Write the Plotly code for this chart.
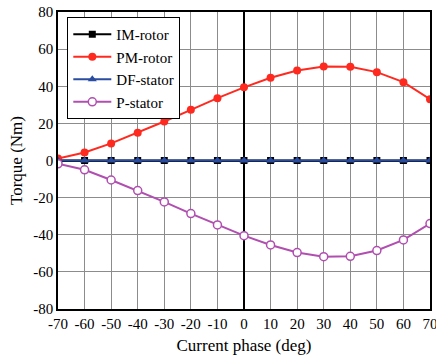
import plotly.graph_objects as go

phase = [-70, -60, -50, -40, -30, -20, -10, 0, 10, 20, 30, 40, 50, 60, 70]
phase_labels = ["-70", "-60", "-50", "-40", "-30", "-20", "-10", "0", "10", "20", "30", "40", "50", "60", "70"]
torque_ticks = [-80, -60, -40, -20, 0, 20, 40, 60, 80]
torque_labels = ["-80", "-60", "-40", "-20", "0", "20", "40", "60", "80"]
im_rotor = [0] * 15
pm_rotor = [1.1, 4.3, 9.2, 15.0, 21.0, 27.3, 33.6, 39.4, 44.6, 48.5, 50.7, 50.5, 47.6, 42.2, 33.0]
df_stator = [0] * 15
p_stator = [-1.8, -5.0, -10.5, -16.2, -22.3, -28.6, -34.7, -40.5, -45.5, -49.6, -51.8, -51.6, -48.5, -42.8, -34.0]

fig = go.Figure()
fig.add_trace(go.Scatter(x=phase, y=im_rotor, name="IM-rotor", mode="lines+markers",
                         line=dict(color="black", width=2),
                         marker=dict(symbol="square", size=7, color="black")))
fig.add_trace(go.Scatter(x=phase, y=pm_rotor, name="PM-rotor", mode="lines+markers",
                         line=dict(color="#ff2a1f", width=2),
                         marker=dict(symbol="circle", size=8, color="#ff2a1f")))
fig.add_trace(go.Scatter(x=phase, y=df_stator, name="DF-stator", mode="lines+markers",
                         line=dict(color="#2a4da0", width=2),
                         marker=dict(symbol="triangle-up", size=8, color="#2a4da0")))
fig.add_trace(go.Scatter(x=phase, y=p_stator, name="P-stator", mode="lines+markers",
                         line=dict(color="#b04fb0", width=2),
                         marker=dict(symbol="circle", size=8, color="white",
                                     line=dict(color="#b04fb0", width=1.5))))

font = "Liberation Serif"
fig.update_layout(
    width=436, height=360,
    margin=dict(l=58, r=6, t=12, b=51, autoexpand=False),
    paper_bgcolor="white", plot_bgcolor="white",
    font=dict(family=font, size=14, color="black"),
    showlegend=True,
    legend=dict(x=0.025, y=0.983, xanchor="left", yanchor="top",
                bordercolor="black", borderwidth=1, bgcolor="white",
                font=dict(family=font, size=15), tracegroupgap=0,
                itemwidth=38),
    xaxis=dict(range=[-70, 70], tickmode="array", tickvals=phase, ticktext=phase_labels,
               ticks="", showgrid=True, gridcolor="#8c8c8c", gridwidth=1,
               zeroline=True, zerolinecolor="black", zerolinewidth=1.5,
               showline=True, linecolor="black", linewidth=1.5, mirror=True,
               automargin=False, ticklabeloverflow="allow",
               title=dict(text="Current phase (deg)", font=dict(family=font, size=17), standoff=8),
               tickfont=dict(family=font, size=15)),
    yaxis=dict(range=[-80, 80], tickmode="array", tickvals=torque_ticks, ticktext=torque_labels,
               ticks="", showgrid=True, gridcolor="#8c8c8c", gridwidth=1,
               zeroline=True, zerolinecolor="black", zerolinewidth=1.5,
               showline=True, linecolor="black", linewidth=1.5, mirror=True,
               automargin=False, ticklabeloverflow="allow",
               title=dict(text="Torque (Nm)", font=dict(family=font, size=17), standoff=6),
               tickfont=dict(family=font, size=15)),
)
fig.write_html("out.html", config={"displayModeBar": False},
               post_script="document.body.style.margin='0';")
